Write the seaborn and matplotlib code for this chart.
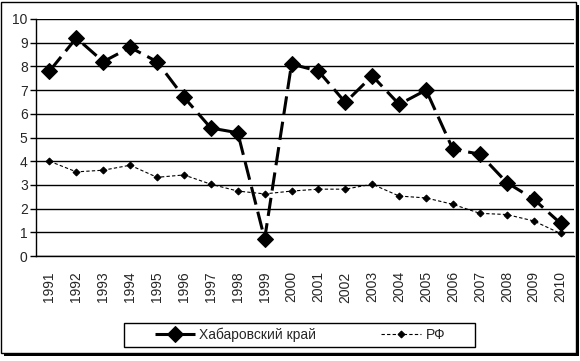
import numpy as np
import matplotlib
matplotlib.use("Agg")
import matplotlib.pyplot as plt
import seaborn as sns
from matplotlib.patches import Rectangle

# данные с графика
years = [str(y) for y in range(1991, 2011)]
khab = [7.8, 9.2, 8.2, 8.8, 8.2, 6.7, 5.4, 5.2, 0.72, 8.1,
        7.8, 6.48, 7.6, 6.4, 7.0, 4.5, 4.3, 3.1, 2.4, 1.38]
rf = [4.0, 3.55, 3.62, 3.83, 3.32, 3.42, 3.03, 2.74, 2.62, 2.74,
      2.82, 2.82, 3.03, 2.53, 2.45, 2.18, 1.8, 1.75, 1.48, 0.95]
y_ticks = list(range(0, 11))

sns.set_style("white")
plt.rcParams['font.family'] = ['Liberation Sans', 'DejaVu Sans']

fig = plt.figure(figsize=(5.8, 3.61), dpi=100)

# рамка с тенью как в Excel
W, H = 580, 361
fig.patches.append(Rectangle((4 / W, 1 - 356 / H), 575 / W, 351 / H,
                             transform=fig.transFigure, facecolor='black',
                             edgecolor='none', zorder=0))
fig.patches.append(Rectangle((1 / W, 1 - 353 / H), 575 / W, 351 / H,
                             transform=fig.transFigure, facecolor='white',
                             edgecolor='black', linewidth=1, zorder=1))
# рамка легенды
fig.patches.append(Rectangle((124 / W, 1 - 347 / H), 351 / W, 24 / H,
                             transform=fig.transFigure, facecolor='white',
                             edgecolor='black', linewidth=1, zorder=1))

ax = fig.add_axes([36 / W, 1 - 256 / H, (574 - 36) / W, (256 - 19) / H])
ax.set_facecolor('none')
ax.set_zorder(2)

sns.lineplot(x=years, y=khab, ax=ax, color='black', linewidth=2.2,
             linestyle=(0, (6, 2.4)), marker='D', markersize=8.5,
             markeredgecolor='black', label='Хабаровский край', sort=False)
sns.lineplot(x=years, y=rf, ax=ax, color='black', linewidth=0.8,
             linestyle=(0, (3, 2)), marker='D', markersize=3.5,
             markeredgecolor='black', label='РФ', sort=False)

ax.set_ylim(0, 10)
ax.set_xlim(-0.5, len(years) - 0.5)
ax.set_yticks(y_ticks)
ax.set_yticklabels([str(t) for t in y_ticks], fontsize=10)
ax.set_xticks(range(len(years)))
ax.set_xticklabels(years, rotation=90, fontsize=10)
ax.set_xticks(np.arange(-0.5, len(years), 1.0), minor=True)
ax.tick_params(axis='x', which='major', length=0, pad=11)
ax.tick_params(axis='x', which='minor', length=4, width=1, color='black', direction='out')
ax.tick_params(axis='y', length=4, width=1, color='black', direction='out', left=True, pad=2)
ax.set_xlabel('')
ax.set_ylabel('')

ax.grid(axis='y', color='black', linewidth=1)
ax.grid(axis='x', visible=False)
ax.set_axisbelow(True)
for s in ['top', 'right']:
    ax.spines[s].set_visible(False)
for s in ['left', 'bottom']:
    ax.spines[s].set_color('black')
    ax.spines[s].set_linewidth(1)

# легенда без своей рамки, растянута между позициями оригинала
leg = ax.legend(loc='lower left', bbox_to_anchor=(150 / W, 1 - 347 / H, 300 / W, 24 / H),
                bbox_transform=fig.transFigure, mode='expand', ncol=2, fontsize=10,
                frameon=False, handlelength=2.9,
                borderpad=0.35, borderaxespad=0, handletextpad=0.3)

fig.savefig('out.png', dpi=100)
